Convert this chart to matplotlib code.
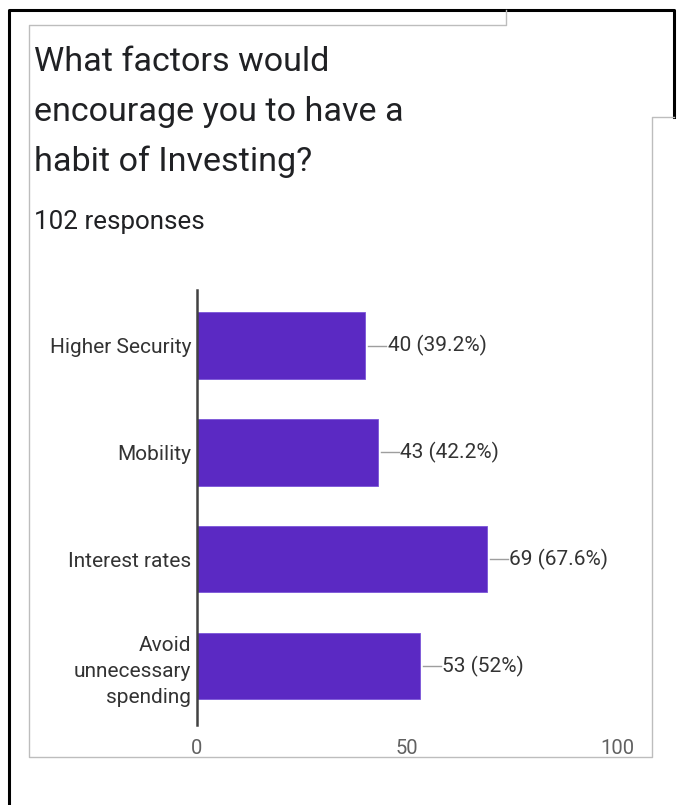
import matplotlib
matplotlib.use("Agg")
from matplotlib import pyplot as plt
from matplotlib.lines import Line2D

plt.rcParams['font.family'] = ['Roboto', 'DejaVu Sans']

title_lines = ["What factors would", "encourage you to have a", "habit of Investing?"]
total_responses = 102
categories = ["Higher Security", "Mobility", "Interest rates", "Avoid\nunnecessary\nspending"]
counts = [40, 43, 69, 53]
percents = ["39.2%", "42.2%", "67.6%", "52%"]
x_ticks = [0, 50, 100]

W, H = 678, 805
fig = plt.figure(figsize=(W / 100, H / 100), dpi=100)
fig.patch.set_facecolor('white')


def px(x, y):
    # pixel coords (top-left origin) -> figure fraction
    return x / W, 1 - y / H


def fig_line(xs, ys, color, lw):
    fx = [x / W for x in xs]
    fy = [1 - y / H for y in ys]
    fig.add_artist(Line2D(fx, fy, color=color, lw=lw, transform=fig.transFigure))


# outer black frame
fig_line([8.5, 8.5, 674, 674], [805, 10.5, 10.5, 117], 'black', 2.2)
# inner grey card outline
fig_line([506, 506, 29, 29, 652, 652, 674], [10, 25, 25, 757, 757, 117, 117], '#bdbdbd', 1.0)

for i, line in enumerate(title_lines):
    fx, fy = px(34, 62 + i * 50)
    fig.text(fx, fy, line, fontsize=24.6, color='#202124', va='center', ha='left')

fx, fy = px(34, 222)
fig.text(fx, fy, f"{total_responses} responses", fontsize=18.7, color='#202124', va='center', ha='left')

ax = fig.add_axes([197 / W, 1 - 725 / H, 420 / W, 435 / H])
ypos = list(range(len(categories)))
ax.barh(ypos, counts, height=0.62, color='#5b29c3', edgecolor='#7a55d8', linewidth=0.6)
ax.set_xlim(0, 100)
ax.set_ylim(3.55, -0.52)

for y, c, p in zip(ypos, counts, percents):
    ax.plot([c + 0.7, c + 5.0], [y, y], color='#9e9e9e', lw=1.0, clip_on=False)
    ax.text(c + 5.4, y, f"{c} ({p})", fontsize=15, color='#333333', va='center', ha='left')

ax.set_yticks(ypos)
ax.set_yticklabels(categories, fontsize=15, color='#333333', ha='right', linespacing=1.45)
ax.tick_params(axis='y', length=0, pad=4)
ax.set_xticks(x_ticks)
ax.set_xticklabels([str(t) for t in x_ticks], fontsize=14.5, color='#616161')
ax.tick_params(axis='x', length=0, pad=10)
for s in ['top', 'right', 'bottom']:
    ax.spines[s].set_visible(False)
ax.spines['left'].set_color('#424242')
ax.spines['left'].set_linewidth(1.8)
ax.set_facecolor('none')

fig.savefig('out.png', dpi=100, facecolor='white')
